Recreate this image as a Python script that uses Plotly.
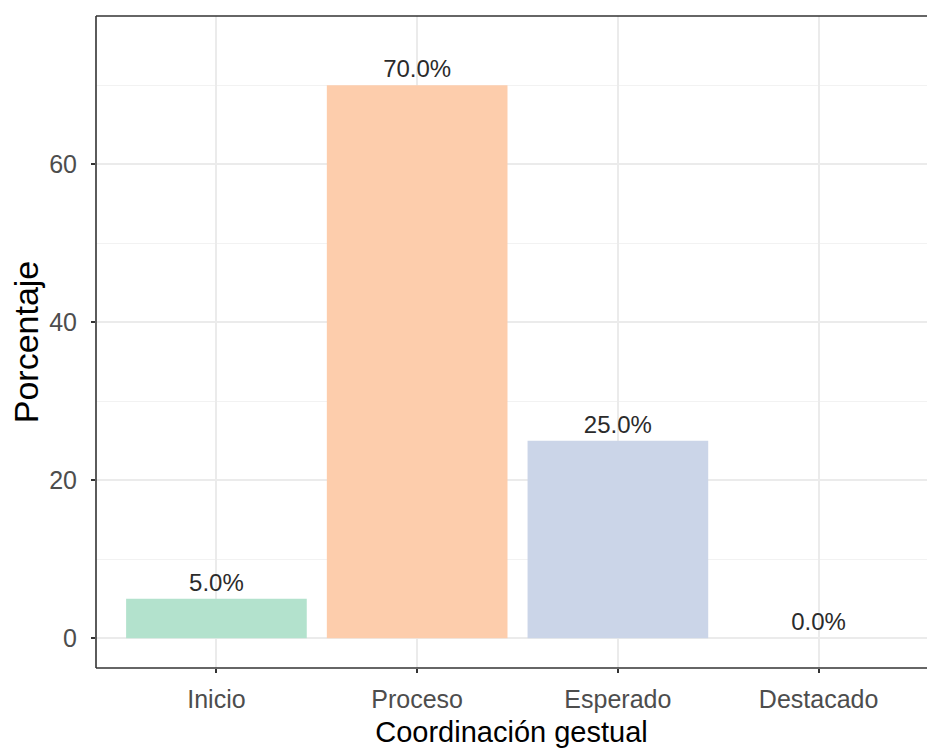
import plotly.graph_objects as go

categories = ["Inicio", "Proceso", "Esperado", "Destacado"]
porcentaje = [5.0, 70.0, 25.0, 0.0]
bar_colors = ["#B3E2CD", "#FDCDAC", "#CBD5E8", "#F4CAE4"]
y_ticks = [0, 20, 40, 60]

FONT = "Liberation Sans, Arial, sans-serif"

fig = go.Figure()
fig.add_trace(go.Bar(
    x=categories,
    y=porcentaje,
    marker=dict(color=bar_colors, line=dict(width=0)),
    width=0.9,
    texttemplate="%{y:.1f}%",
    textposition="outside",
    constraintext="none",
    cliponaxis=False,
    textfont=dict(family=FONT, size=24, color="#2b2b2b"),
    hoverinfo="x+y",
))

border = dict(color="#333333", width=1.6)
fig.update_layout(
    width=927, height=752,
    margin=dict(l=96, r=0, t=16, b=84, autoexpand=False),
    paper_bgcolor="white",
    plot_bgcolor="white",
    showlegend=False,
    bargap=0.1,
    xaxis=dict(
        range=[-0.6, 3.54],
        automargin=False,
        showgrid=True, gridcolor="#EBEBEB", gridwidth=1.5,
        ticks="outside", ticklen=4, tickwidth=1.5, tickcolor="#333333",
        ticklabelstandoff=5,
        tickfont=dict(family=FONT, size=25, color="#4D4D4D"),
        title=dict(text="Coordinación gestual", font=dict(family=FONT, size=29, color="black"), standoff=9),
        zeroline=False, showline=False,
    ),
    yaxis=dict(
        range=[-3.75, 78.75],
        automargin=False,
        tickvals=y_ticks,
        showgrid=True, gridcolor="#EBEBEB", gridwidth=1.5,
        minor=dict(dtick=10, tick0=10, showgrid=True, gridcolor="#F2F2F2", gridwidth=1),
        ticks="outside", ticklen=4, tickwidth=1.5, tickcolor="#333333",
        ticklabelstandoff=9,
        tickfont=dict(family=FONT, size=25, color="#4D4D4D"),
        title=dict(text="Porcentaje", font=dict(family=FONT, size=34, color="black"), standoff=0),
        zeroline=False, showline=False,
    ),
    shapes=[
        dict(type="line", xref="paper", yref="paper", x0=0, x1=0, y0=0, y1=1, line=border, layer="above"),
        dict(type="line", xref="paper", yref="paper", x0=0, x1=1, y0=1, y1=1, line=border, layer="above"),
        dict(type="line", xref="paper", yref="paper", x0=0, x1=1, y0=0, y1=0, line=border, layer="above"),
    ],
)

fig.write_html(
    "out.html",
    config={"displayModeBar": False},
    post_script="document.body.style.margin='0px';document.body.style.overflow='hidden';",
)
